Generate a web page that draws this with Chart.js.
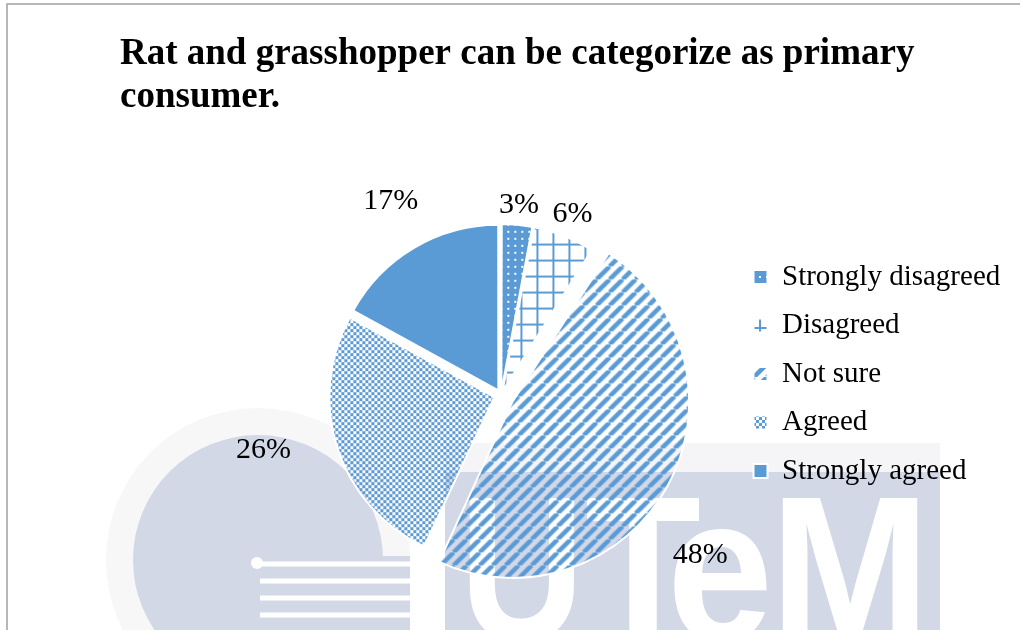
<!DOCTYPE html>
<html>
<head>
<meta charset="utf-8">
<title>Rat and grasshopper can be categorize as primary consumer.</title>
<script src="https://cdn.jsdelivr.net/npm/chart.js@4.4.1/dist/chart.umd.min.js"></script>
<style>
    body { margin: 0; background: #fff; }
    #grafico { display: block; }
</style>
</head>
<body>
<canvas id="grafico" width="1020" height="630"></canvas>
<script>
const titulo = ['Rat and grasshopper can be categorize as primary', 'consumer.'];
const respostas = ['Strongly disagreed', 'Disagreed', 'Not sure', 'Agreed', 'Strongly agreed'];
const percentuais = [3, 6, 48, 26, 17];

const azul = '#5B9BD5';
const lilas = '#D3D8E7';
const serifa = "'Liberation Serif', 'Times New Roman', serif";

// Excel-like best fit for the labels: extra distance past the edge and a small turn (deg)
const ajusteRotulos = [
    { folga: 20, giro: 0 },
    { folga: 23, giro: 0 },
    { folga: 66, giro: 11 },
    { folga: 72, giro: 5 },
    { folga: 52, giro: 1 }
];

function criaPadrao(tamanho, desenha) {
    const tela = document.createElement('canvas');
    tela.width = tamanho;
    tela.height = tamanho;
    const c = tela.getContext('2d');
    desenha(c, tamanho);
    return c.createPattern(tela, 'repeat');
}

const pontilhado = criaPadrao(7, (c, t) => {
    c.fillStyle = azul;
    c.fillRect(0, 0, t, t);
    c.fillStyle = '#fff';
    c.fillRect(3, 3, 2, 2);
});

const grade = criaPadrao(16, (c, t) => {
    c.fillStyle = azul;
    c.fillRect(0, 7, t, 2);
    c.fillRect(7, 0, 2, t);
});

const listras = criaPadrao(13, (c, t) => {
    c.strokeStyle = azul;
    c.lineWidth = 4.5;
    c.beginPath();
    for (const k of [-t, 0, t]) {
        c.moveTo(k, t);
        c.lineTo(k + t, 0);
    }
    c.stroke();
});

const xadrez = criaPadrao(6, (c, t) => {
    c.fillStyle = azul;
    c.fillRect(0, 0, t / 2, t / 2);
    c.fillRect(t / 2, t / 2, t / 2, t / 2);
});

// background: scanned thesis watermark and the frame of the chart
const marcaDagua = {
    id: 'marcaDagua',
    beforeDraw(chart) {
        const c = chart.ctx;
        c.save();
        c.fillStyle = '#fff';
        c.fillRect(0, 0, chart.width, chart.height);

        c.fillStyle = '#F7F7F7';
        c.beginPath();
        c.arc(258, 560, 152, 0, Math.PI * 2);
        c.fill();
        c.fillStyle = lilas;
        c.beginPath();
        c.arc(258, 560, 125, 0, Math.PI * 2);
        c.fill();
        c.fillRect(258, 556, 152, 80);
        c.fillStyle = '#fff';
        c.beginPath();
        c.arc(257, 563, 6, 0, Math.PI * 2);
        c.fill();
        [564, 581, 598, 615].forEach(y => c.fillRect(260, y - 2.5, 150, 5));

        c.fillStyle = '#F5F5F7';
        c.fillRect(445, 443, 495, 30);
        c.fillStyle = lilas;
        c.fillRect(445, 472, 495, 160);
        c.fillStyle = '#fff';
        c.font = 'bold 206px "Liberation Sans", Arial, sans-serif';
        c.textAlign = 'center';
        c.textBaseline = 'alphabetic';
        [['U', 522, 125], ['T', 643, 116], ['e', 720, 106], ['M', 850, 160]]
            .forEach(([letra, x, largura]) => c.fillText(letra, x, 640, largura));

        c.strokeStyle = '#A0A0A0';
        c.lineWidth = 1.5;
        c.beginPath();
        c.moveTo(7, 632);
        c.lineTo(7, 4);
        c.lineTo(1022, 4);
        c.stroke();
        c.restore();
    }
};

// the title starts well left of the pie area, so it is drawn here
const tituloGrafico = {
    id: 'tituloGrafico',
    afterDraw(chart) {
        const c = chart.ctx;
        c.save();
        c.font = `bold 37px ${serifa}`;
        c.fillStyle = '#000';
        c.textAlign = 'left';
        c.textBaseline = 'alphabetic';
        titulo.forEach((linha, i) => c.fillText(linha, 120, 64 + i * 43));
        c.restore();
    }
};

const rotulos = {
    id: 'rotulos',
    afterDatasetsDraw(chart) {
        const c = chart.ctx;
        const arcos = chart.getDatasetMeta(0).data;
        c.save();
        c.font = `30px ${serifa}`;
        c.fillStyle = '#000';
        c.textAlign = 'center';
        c.textBaseline = 'middle';
        arcos.forEach((arco, i) => {
            const { x, y, startAngle, endAngle, outerRadius } = arco;
            const meio = (startAngle + endAngle) / 2;
            // same shift Chart.js applies to an exploded slice
            const desloc = arco.options.offset / 4 * (2 - Math.sin(Math.min(Math.PI, endAngle - startAngle)));
            const ajuste = ajusteRotulos[i];
            const angulo = meio + ajuste.giro * Math.PI / 180;
            const dist = outerRadius + ajuste.folga;
            const px = x + Math.cos(meio) * desloc + Math.cos(angulo) * dist;
            const py = y + Math.sin(meio) * desloc + Math.sin(angulo) * dist;
            c.fillText(percentuais[i] + '%', px, py);
        });
        c.restore();
    }
};

const grafico = document.getElementById('grafico');

const graficoPizza = new Chart(grafico, {
    type: 'pie',
    data: {
        labels: respostas,
        datasets: [{
            data: percentuais,
            backgroundColor: [pontilhado, grade, listras, xadrez, azul],
            borderColor: '#fff',
            borderWidth: 2,
            offset: [13, 15, 53, 28, 21],
            radius: 165,
            clip: false
        }]
    },
    options: {
        responsive: false,
        animation: false,
        layout: {
            padding: { left: 268, top: 243, right: 14, bottom: 83 }
        },
        plugins: {
            legend: {
                position: 'right',
                align: 'start',
                maxWidth: 272,
                labels: {
                    boxWidth: 14,
                    boxHeight: 14,
                    padding: 19.5,
                    color: '#000',
                    font: { family: serifa, size: 29 }
                }
            },
            title: { display: false },
            tooltip: { enabled: false }
        }
    },
    plugins: [marcaDagua, tituloGrafico, rotulos]
});
</script>
</body>
</html>
